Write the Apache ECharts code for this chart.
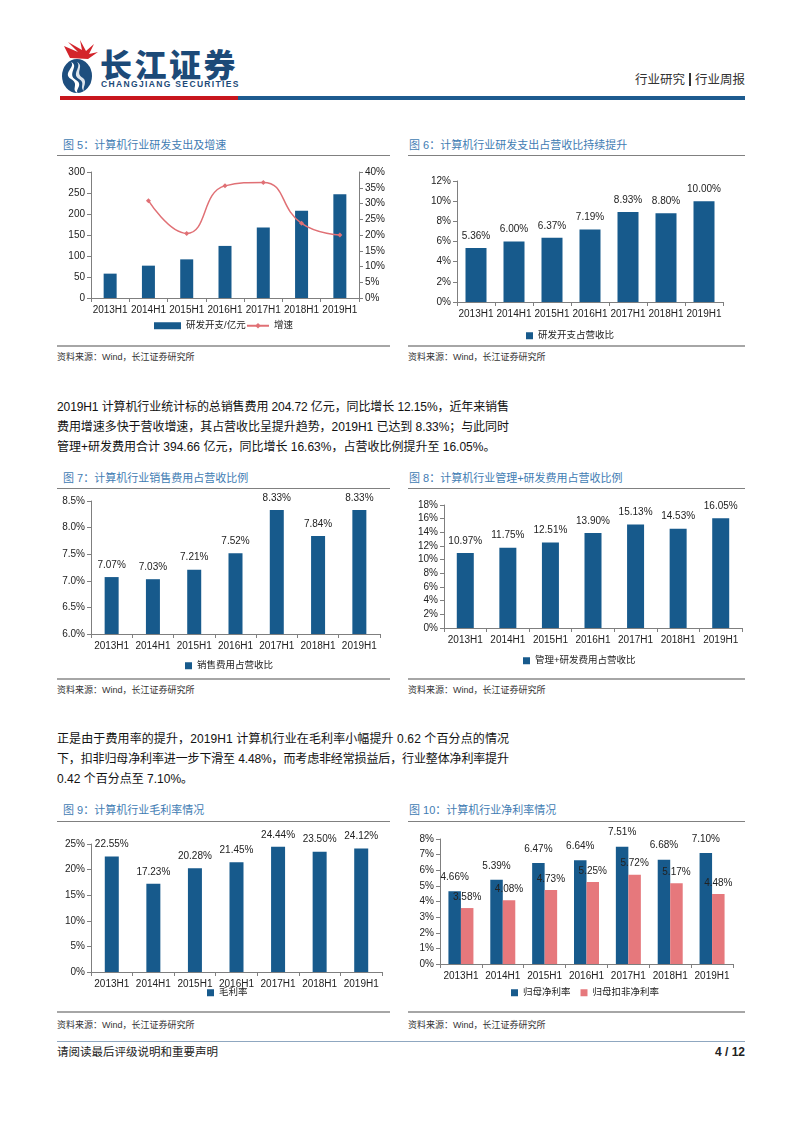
<!DOCTYPE html>
<html><head><meta charset="utf-8">
<script src="https://cdn.jsdelivr.net/npm/echarts@6/dist/echarts.min.js"></script>
<style>
html,body{margin:0;padding:0;background:#fff;}
#page{position:relative;width:802px;height:1133px;overflow:hidden;font-family:"Liberation Sans","Noto Sans CJK SC",sans-serif;color:#1a1a1a;}
.t{position:absolute;white-space:nowrap;}
.title{font-size:11px;color:#3f7cb3;height:14px;line-height:14px;}
.src{font-size:9px;color:#333;height:12px;line-height:12px;}
.hl{position:absolute;height:1px;background:#808080;}
.bl{position:absolute;height:2px;background:#a6a6a6;}
.pl{position:absolute;left:57px;font-size:12px;height:16px;line-height:16px;white-space:nowrap;color:#111;}
#chart{position:absolute;left:0;top:0;width:802px;height:1133px;}
</style></head>
<body><div id="page">
<!-- header -->
<svg style="position:absolute;left:58px;top:40px" width="42" height="56" viewBox="0 0 42 56">
  <path d="M6 6 L20 12 L10 2 L24 10 L22 0 L28 11 L36 4 L31 14 L40 12 L30 19 L12 18 Z" fill="#d3242b"/>
  <ellipse cx="19" cy="36" rx="15" ry="17" fill="#1d4e7e"/>
  <path d="M13 22 C22 26 8 34 18 40 C26 45 16 50 20 53 C12 50 22 44 13 39 C4 33 18 27 13 22 Z" fill="#fff"/>
  <path d="M19 22 C27 26 16 33 25 38 C30 42 24 48 26 51 C21 47 28 43 21 39 C13 34 24 27 19 22 Z" fill="#fff" opacity="0.85"/>
</svg>
<div class="t" style="left:100px;top:46px;font-family:'Noto Sans CJK SC';font-weight:900;font-size:32px;line-height:34px;color:#1c4a78;letter-spacing:2.5px;">长江证券</div>
<div class="t" style="left:101px;top:79px;font-weight:bold;font-size:8.5px;line-height:10px;color:#1c4a78;letter-spacing:1.35px;">CHANGJIANG SECURITIES</div>
<div class="t" style="right:57px;top:72px;font-size:12.5px;line-height:16px;color:#333;">行业研究<span style="display:inline-block;width:2px;height:13px;background:#333;margin:0 4px;vertical-align:-2px;"></span>行业周报</div>
<div style="position:absolute;left:60px;top:96px;width:178px;height:4px;background:#c8161d;"></div>
<div style="position:absolute;left:238px;top:96px;width:507px;height:4px;background:#1d5b8f;"></div>

<!-- titles -->
<div class="t title" style="left:63px;top:138px;">图 5：计算机行业研发支出及增速</div>
<div class="t title" style="left:409px;top:138px;">图 6：计算机行业研发支出占营收比持续提升</div>
<div class="hl" style="left:57px;top:155px;width:333px;"></div>
<div class="hl" style="left:408px;top:155px;width:337px;"></div>
<div class="bl" style="left:57px;top:345px;width:333px;"></div>
<div class="bl" style="left:408px;top:345px;width:337px;"></div>
<div class="t src" style="left:57px;top:351px;">资料来源：Wind，长江证券研究所</div>
<div class="t src" style="left:408px;top:351px;">资料来源：Wind，长江证券研究所</div>

<div class="pl jl" data-w="452" style="top:399px;">2019H1 计算机行业统计标的总销售费用 204.72 亿元，同比增长 12.15%，近年来销售</div>
<div class="pl jl" data-w="452" style="top:419px;">费用增速多快于营收增速，其占营收比呈提升趋势，2019H1 已达到 8.33%；与此同时</div>
<div class="pl" style="top:439px;">管理+研发费用合计 394.66 亿元，同比增长 16.63%，占营收比例提升至 16.05%。</div>

<div class="t title" style="left:63px;top:471px;">图 7：计算机行业销售费用占营收比例</div>
<div class="t title" style="left:409px;top:471px;">图 8：计算机行业管理+研发费用占营收比例</div>
<div class="hl" style="left:57px;top:488px;width:333px;"></div>
<div class="hl" style="left:408px;top:488px;width:337px;"></div>
<div class="bl" style="left:57px;top:678px;width:333px;"></div>
<div class="bl" style="left:408px;top:678px;width:337px;"></div>
<div class="t src" style="left:57px;top:684px;">资料来源：Wind，长江证券研究所</div>
<div class="t src" style="left:408px;top:684px;">资料来源：Wind，长江证券研究所</div>

<div class="pl jl" data-w="452" style="top:731px;">正是由于费用率的提升，2019H1 计算机行业在毛利率小幅提升 0.62 个百分点的情况</div>
<div class="pl jl" data-w="452" style="top:751px;">下，扣非归母净利率进一步下滑至 4.48%，而考虑非经常损益后，行业整体净利率提升</div>
<div class="pl" style="top:771px;">0.42 个百分点至 7.10%。</div>

<div class="t title" style="left:63px;top:803px;">图 9：计算机行业毛利率情况</div>
<div class="t title" style="left:409px;top:803px;">图 10：计算机行业净利率情况</div>
<div class="hl" style="left:57px;top:821px;width:333px;"></div>
<div class="hl" style="left:408px;top:821px;width:337px;"></div>
<div class="bl" style="left:57px;top:1011px;width:333px;"></div>
<div class="bl" style="left:408px;top:1011px;width:337px;"></div>
<div class="t src" style="left:57px;top:1019px;">资料来源：Wind，长江证券研究所</div>
<div class="t src" style="left:408px;top:1019px;">资料来源：Wind，长江证券研究所</div>

<!-- footer -->
<div style="position:absolute;left:57px;top:1041px;width:688px;height:1px;background:#8fa7c0;"></div>
<div class="t" style="left:57px;top:1044px;font-size:11.5px;line-height:16px;color:#222;">请阅读最后评级说明和重要声明</div>
<div class="t" style="right:57px;top:1044px;font-size:12px;line-height:16px;font-weight:bold;color:#222;">4 / 12</div>

<div id="chart"></div>
</div>
<script>
// ---------- data ----------
const categories = ['2013H1','2014H1','2015H1','2016H1','2017H1','2018H1','2019H1'];
const rdSpend = [58, 77, 92, 124, 168, 208, 247];           // 研发开支/亿元
const rdGrowth = [null, 30.9, 20.5, 35.6, 36.7, 23.7, 20.0]; // 增速 %
const rdRatio = [5.36, 6.00, 6.37, 7.19, 8.93, 8.80, 10.00];
const salesRatio = [7.07, 7.03, 7.21, 7.52, 8.33, 7.84, 8.33];
const mgmtRdRatio = [10.97, 11.75, 12.51, 13.90, 15.13, 14.53, 16.05];
const grossMargin = [22.55, 17.23, 20.28, 21.45, 24.44, 23.50, 24.12];
const netMargin = [4.66, 5.39, 6.47, 6.64, 7.51, 6.68, 7.10];
const netMarginExcl = [3.58, 4.08, 4.73, 5.25, 5.72, 5.17, 4.48];
// axis ranges [min, max, interval]
const axis5L = [0, 300, 50];
const axis5R = [0, 40, 5];
const axis6 = [0, 12, 2];
const axis7 = [6, 8.5, 0.5];
const axis8 = [0, 18, 2];
const axis9 = [0, 25, 5];
const axis10 = [0, 8, 1];

// ---------- justify paragraph lines ----------
document.querySelectorAll('.jl').forEach(el => {
  el.style.letterSpacing = '0px';
  const w = el.getBoundingClientRect().width;
  const n = el.textContent.length;
  const target = parseFloat(el.dataset.w);
  el.style.letterSpacing = ((target - w) / (n - 1)) + 'px';
});

// ---------- chart ----------
const BLUE = '#175a8c', PINK = '#e6787c', LINE = '#e07075';
const FONT = '"Liberation Sans","Noto Sans CJK SC",sans-serif';
const grids = [
  {left: 91, top: 172, width: 268, height: 126},
  {left: 457, top: 181, width: 266, height: 121},
  {left: 91, top: 501, width: 289, height: 133},
  {left: 444, top: 505, width: 298, height: 123},
  {left: 91, top: 844, width: 291, height: 128},
  {left: 440, top: 839, width: 293, height: 125}
].map(g => Object.assign({outerBoundsMode: 'none', containLabel: false}, g));

const axisCol = '#7f7f7f';
const xAxes = grids.map((g, i) => ({
  type: 'category', gridIndex: i, data: categories,
  axisLine: {lineStyle: {color: axisCol}},
  axisTick: {show: true, length: 4, interval: 0, lineStyle: {color: axisCol}},
  axisLabel: {fontSize: 10, color: '#222', margin: 7, interval: 0, fontFamily: FONT}
}));
function yAx(gi, r, fmt, pos) {
  return {
    type: 'value', gridIndex: gi, min: r[0], max: r[1], interval: r[2], position: pos || 'left',
    axisLine: {show: true, lineStyle: {color: axisCol}},
    axisTick: {show: true, length: 4, lineStyle: {color: axisCol}},
    splitLine: {show: false},
    axisLabel: {fontSize: 10, color: '#222', margin: 6, fontFamily: FONT, formatter: fmt}
  };
}
const pct0 = v => v + '%';
const yAxes = [
  yAx(0, axis5L, v => String(v)),
  yAx(0, axis5R, pct0, 'right'),
  yAx(1, axis6, pct0),
  yAx(2, axis7, v => v.toFixed(1) + '%'),
  yAx(3, axis8, pct0),
  yAx(4, axis9, pct0),
  yAx(5, axis10, pct0)
];
const lbl = (dist) => ({show: true, position: 'top', distance: dist, fontSize: 10, color: '#222', fontFamily: FONT,
  formatter: p => p.value.toFixed(2) + '%'});

const series = [
  {name: '研发开支/亿元', type: 'bar', xAxisIndex: 0, yAxisIndex: 0, data: rdSpend, barWidth: 13, itemStyle: {color: BLUE}},
  {name: '增速', type: 'line', xAxisIndex: 0, yAxisIndex: 1, data: rdGrowth, smooth: true, symbol: 'diamond', symbolSize: 5,
    itemStyle: {color: LINE}, lineStyle: {color: LINE, width: 1.5}},
  {name: '研发开支占营收比', type: 'bar', xAxisIndex: 1, yAxisIndex: 2, data: rdRatio, barWidth: 21, itemStyle: {color: BLUE}, label: lbl(7)},
  {name: '销售费用占营收比', type: 'bar', xAxisIndex: 2, yAxisIndex: 3, data: salesRatio, barWidth: 14, itemStyle: {color: BLUE}, label: lbl(7)},
  {name: '管理+研发费用占营收比', type: 'bar', xAxisIndex: 3, yAxisIndex: 4, data: mgmtRdRatio, barWidth: 17, itemStyle: {color: BLUE}, label: lbl(7)},
  {name: '毛利率', type: 'bar', xAxisIndex: 4, yAxisIndex: 5, data: grossMargin, barWidth: 14, itemStyle: {color: BLUE}, label: lbl(7)},
  {name: '归母净利率', type: 'bar', xAxisIndex: 5, yAxisIndex: 6, data: netMargin, barWidth: 12.5, barGap: '0%', itemStyle: {color: BLUE}, label: lbl(9)},
  {name: '归母扣非净利率', type: 'bar', xAxisIndex: 5, yAxisIndex: 6, data: netMarginExcl, barWidth: 12.5, barGap: '0%', itemStyle: {color: PINK}, label: lbl(6)}
];
const lg = (names, left, top, w, h, gap) => ({
  data: names, left: left, top: top, itemWidth: w, itemHeight: h, itemGap: gap || 10, padding: 0,
  selectedMode: false, textStyle: {fontSize: 9.5, color: '#222', fontFamily: FONT}
});
const legends = [
  lg([{name: '研发开支/亿元', icon: 'rect'}], 154, 321, 27, 7),
  lg(['增速'], 246, 321, 22, 7),
  lg([{name: '研发开支占营收比', icon: 'rect'}], 526, 331, 7, 7),
  lg([{name: '销售费用占营收比', icon: 'rect'}], 185, 661, 7, 7),
  lg([{name: '管理+研发费用占营收比', icon: 'rect'}], 523, 656, 7, 7),
  lg([{name: '毛利率', icon: 'rect'}], 207, 988, 7, 7),
  lg([{name: '归母净利率', icon: 'rect'}, {name: '归母扣非净利率', icon: 'rect'}], 511, 988, 7, 7, 10)
];

const chart = echarts.init(document.getElementById('chart'), null, {renderer: 'canvas'});
chart.setOption({
  animation: false,
  textStyle: {fontFamily: FONT},
  grid: grids, xAxis: xAxes, yAxis: yAxes, legend: legends, series: series
});
</script>
</body></html>
